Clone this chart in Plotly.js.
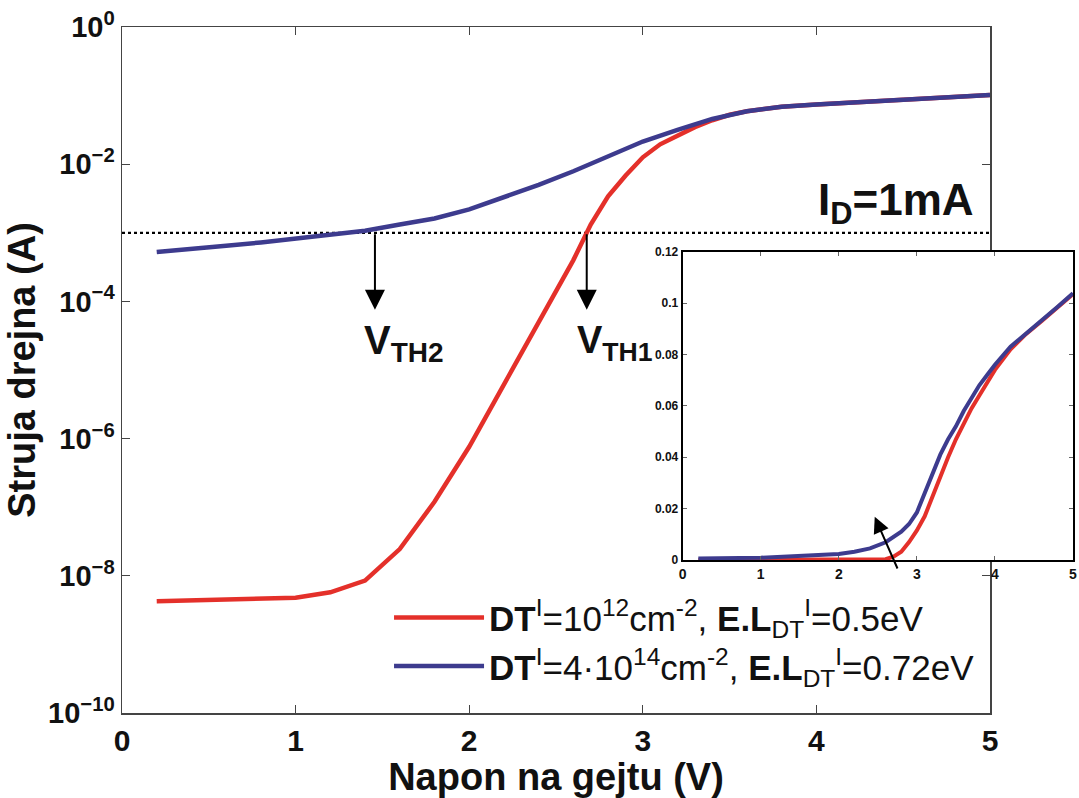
<!DOCTYPE html>
<html>
<head>
<meta charset="utf-8">
<script src="https://cdn.plot.ly/plotly-3.0.1.min.js"></script>
<style>html,body{margin:0;padding:0;background:#fff;}#chart{width:1079px;height:798px;}</style>
</head>
<body>
<div id="chart"></div>
<script>
// ---- Main plot data (log scale) ----
const gateVoltageRed = [0.2,0.4,0.6,0.8,1.0,1.2,1.4,1.6,1.8,2.0,2.2,2.4,2.5,2.6,2.7,2.8,2.9,3.0,3.1,3.2,3.3,3.4,3.5,3.6,3.8,4.0,4.2,4.4,4.6,4.8,5.0];
const drainCurrentRed = [4.27e-9,4.37e-9,4.47e-9,4.57e-9,4.79e-9,5.75e-9,8.5e-9,2.45e-8,1.2e-7,7.6e-7,6.0e-6,4.7e-5,1.32e-4,4.0e-4,1.32e-3,3.4e-3,6.8e-3,1.26e-2,1.95e-2,2.63e-2,3.47e-2,4.37e-2,5.25e-2,5.9e-2,6.9e-2,7.4e-2,7.9e-2,8.5e-2,9.1e-2,9.66e-2,1.02e-1];
const gateVoltageBlue = [0.2,0.4,0.6,0.8,1.0,1.2,1.4,1.6,1.8,2.0,2.2,2.4,2.6,2.8,3.0,3.2,3.4,3.6,3.8,4.0,4.2,4.4,4.6,4.8,5.0];
const drainCurrentBlue = [5.25e-4,5.75e-4,6.46e-4,7.24e-4,8.3e-4,9.55e-4,1.07e-3,1.32e-3,1.62e-3,2.19e-3,3.31e-3,5.0e-3,7.9e-3,1.32e-2,2.14e-2,3.16e-2,4.57e-2,5.9e-2,6.9e-2,7.4e-2,7.9e-2,8.5e-2,9.1e-2,9.66e-2,1.02e-1];
const thresholdX = [0, 5];
const thresholdCurrent = [1e-3, 1e-3];
const vth2 = 1.457;
const vth1 = 2.677;
const logTickVals = [1e-10, 1e-8, 1e-6, 1e-4, 1e-2, 1];
const logTickText = ['10<sup>−10</sup>', '10<sup>−8</sup>', '10<sup>−6</sup>', '10<sup>−4</sup>', '10<sup>−2</sup>', '10<sup>0</sup>'];

// ---- Inset data (linear scale) ----
const insetVoltageRed = [0.2,1.0,2.0,2.4,2.6,2.7,2.8,2.9,3.0,3.1,3.2,3.3,3.4,3.5,3.6,3.7,3.8,3.9,4.0,4.2,4.4,4.6,4.8,5.0];
const insetCurrentRed = [0.0,0.0,0.0001,0.0001,0.0003,0.0013,0.0032,0.007,0.0115,0.017,0.025,0.033,0.040,0.047,0.053,0.059,0.064,0.069,0.074,0.082,0.088,0.093,0.098,0.1035];
const insetVoltageBlue = [0.2,1.0,2.0,2.2,2.4,2.6,2.8,2.9,3.0,3.1,3.2,3.3,3.4,3.5,3.6,3.7,3.8,3.9,4.0,4.2,4.4,4.6,4.8,5.0];
const insetCurrentBlue = [0.0006,0.0009,0.0023,0.0032,0.0045,0.0069,0.011,0.014,0.0185,0.026,0.034,0.041,0.047,0.052,0.058,0.063,0.068,0.072,0.076,0.083,0.088,0.093,0.0985,0.1038];

const seriesNames = [
  '<b>DT</b><sup>I</sup>=10<sup>12</sup>cm<sup>-2</sup>, <b>E.L</b><sub>DT</sub><sup>I</sup>=0.5eV',
  '<b>DT</b><sup>I</sup>=4·10<sup>14</sup>cm<sup>-2</sup>, <b>E.L</b><sub>DT</sub><sup>I</sup>=0.72eV'
];
const RED = '#e4302a';
const BLUE = '#3d3b8e';
const FONT = 'Liberation Sans, Arial, Helvetica, sans-serif';

const traces = [
  {x: thresholdX, y: thresholdCurrent, mode: 'lines', line: {color: '#000', width: 2.2, dash: 'dot'}, showlegend: false, xaxis: 'x', yaxis: 'y'},
  {x: gateVoltageRed, y: drainCurrentRed, mode: 'lines', name: seriesNames[0], line: {color: RED, width: 4.5}, xaxis: 'x', yaxis: 'y'},
  {x: gateVoltageBlue, y: drainCurrentBlue, mode: 'lines', name: seriesNames[1], line: {color: BLUE, width: 4.5}, xaxis: 'x', yaxis: 'y'},
  {x: insetVoltageRed, y: insetCurrentRed, mode: 'lines', line: {color: RED, width: 4}, showlegend: false, xaxis: 'x2', yaxis: 'y2'},
  {x: insetVoltageBlue, y: insetCurrentBlue, mode: 'lines', line: {color: BLUE, width: 4}, showlegend: false, xaxis: 'x2', yaxis: 'y2'}
];

const W = 1079, H = 798, ML = 122, MR = 5, MT = 27, MB = 85;
const PW = W - ML - MR, PH = H - MT - MB;

const arrowCommon = {xref: 'x', yref: 'y', axref: 'x', ayref: 'y', showarrow: true, arrowhead: 2, arrowsize: 2, arrowwidth: 2, arrowcolor: '#000', text: ''};

const layout = {
  width: W, height: H,
  margin: {l: ML, r: MR, t: MT, b: MB},
  paper_bgcolor: '#fff', plot_bgcolor: 'rgba(0,0,0,0)',
  font: {family: FONT, color: '#111'},
  showlegend: true,
  legend: {x: 0.2805, y: 0.182, xanchor: 'left', yanchor: 'top', bgcolor: 'rgba(0,0,0,0)', borderwidth: 0,
           font: {size: 35, family: FONT, color: '#111'}, itemwidth: 90, tracegroupgap: 0},
  xaxis: {domain: [0, 868 / PW], range: [0, 5], dtick: 1, tick0: 0, anchor: 'y',
          showline: true, linecolor: '#444', linewidth: 1.5, mirror: 'ticks',
          ticks: 'inside', ticklen: 8, tickwidth: 1.2, tickcolor: '#444', showgrid: false, zeroline: false,
          tickfont: {size: 30, family: FONT, weight: 'bold', color: '#111'},
          title: {text: 'Napon na gejtu (V)', font: {size: 38, family: FONT, weight: 'bold', color: '#111'}, standoff: 0},
          automargin: false},
  yaxis: {domain: [0, 1], type: 'log', range: [-10, 0], tickmode: 'array', tickvals: logTickVals, ticktext: logTickText, anchor: 'x',
          showline: true, linecolor: '#444', linewidth: 1.5, mirror: 'ticks',
          ticks: 'inside', ticklen: 8, tickwidth: 1.2, tickcolor: '#444', showgrid: false, zeroline: false,
          tickfont: {size: 29, family: FONT, weight: 'bold', color: '#111'},
          title: {text: 'Struja drejna (A)', font: {size: 38, family: FONT, weight: 'bold', color: '#111'}, standoff: 0},
          automargin: false},
  xaxis2: {domain: [(682.7 - ML) / PW, (1073 - ML) / PW], range: [0, 5], dtick: 1, anchor: 'y2',
           showline: true, linecolor: '#000', linewidth: 2, mirror: 'ticks',
           ticks: 'inside', ticklen: 4, tickcolor: '#666', showgrid: false, zeroline: false,
           tickfont: {size: 14, family: FONT, weight: 'bold', color: '#111'}, automargin: false},
  yaxis2: {domain: [1 - (560 - MT) / PH, 1 - (251.7 - MT) / PH], range: [0, 0.12], dtick: 0.02, anchor: 'x2',
           showline: true, linecolor: '#000', linewidth: 2, mirror: 'ticks',
           ticks: 'inside', ticklen: 4, tickcolor: '#666', showgrid: false, zeroline: false,
           tickfont: {size: 12, family: FONT, weight: 'bold', color: '#111'}, automargin: false},
  shapes: [
    {type: 'rect', xref: 'x2', yref: 'y2', x0: 0, x1: 5, y0: 0, y1: 0.12, fillcolor: '#fff', line: {width: 0}, layer: 'below'}
  ],
  annotations: [
    Object.assign({}, arrowCommon, {x: vth2, y: -4.12, ax: vth2, ay: Math.log10(thresholdCurrent[0])}),
    Object.assign({}, arrowCommon, {x: vth1, y: -4.12, ax: vth1, ay: Math.log10(thresholdCurrent[0])}),
    {xref: 'x', yref: 'y', x: 1.38, y: -4.6, xanchor: 'left', yanchor: 'middle', showarrow: false,
     text: '<b>V<sub>TH2</sub></b>', font: {size: 40, family: FONT, color: '#111'}},
    {xref: 'x', yref: 'y', x: 2.61, y: -4.6, xanchor: 'left', yanchor: 'middle', showarrow: false,
     text: '<b>V<sub>TH1</sub></b>', font: {size: 38, family: FONT, color: '#111'}},
    {xref: 'x', yref: 'y', x: 4.92, y: -2.57, xanchor: 'right', yanchor: 'middle', showarrow: false,
     text: '<b>I<sub>D</sub>=1mA</b>', font: {size: 44, family: FONT, color: '#111'}},
    {xref: 'x2', yref: 'y2', axref: 'x2', ayref: 'y2', x: 2.46, y: 0.0168, ax: 2.76, ay: -0.0039,
     showarrow: true, arrowhead: 2, arrowsize: 1.6, arrowwidth: 2, arrowcolor: '#000', text: ''}
  ]
};

Plotly.newPlot('chart', traces, layout, {staticPlot: true, displayModeBar: false});
</script>
</body>
</html>
